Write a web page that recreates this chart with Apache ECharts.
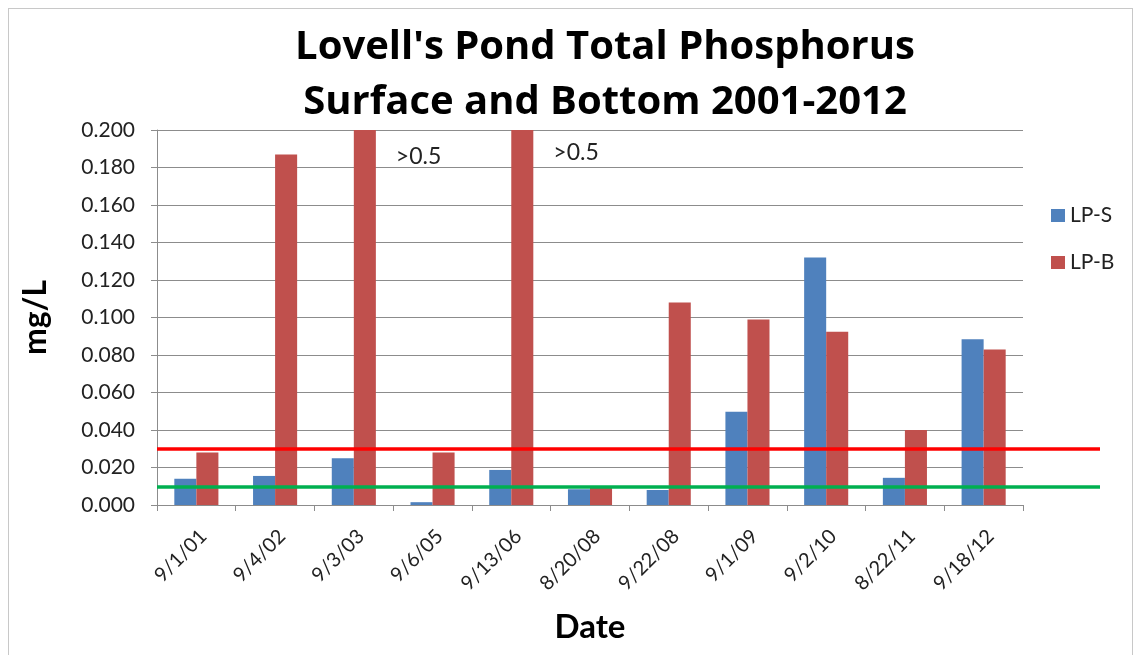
<!DOCTYPE html>
<html>
<head>
<meta charset="utf-8">
<script src="https://cdn.jsdelivr.net/npm/echarts@6/dist/echarts.min.js"></script>
<style>
html,body{margin:0;padding:0;background:#fff;}
#frame{position:absolute;left:8px;top:8px;width:1125px;height:660px;border:1px solid #c8c8c8;box-sizing:border-box;}
#chart{position:absolute;left:0;top:0;width:1140px;height:655px;}
</style>
</head>
<body>
<div id="frame"></div>
<div id="chart"></div>
<script>
// Data
const categories = ['9/1/01','9/4/02','9/3/03','9/6/05','9/13/06','8/20/08','9/22/08','9/1/09','9/2/10','8/22/11','9/18/12'];
const lpS = [0.014, 0.0155, 0.025, 0.0015, 0.0187, 0.0084, 0.008, 0.0498, 0.132, 0.0145, 0.0884];
const lpB = [0.028, 0.187, 0.5, 0.028, 0.5, 0.0101, 0.108, 0.099, 0.0924, 0.040, 0.083];
const yTicks = [0, 0.02, 0.04, 0.06, 0.08, 0.10, 0.12, 0.14, 0.16, 0.18, 0.20];
const annotations = [ {cat:'9/3/03', y:0.1856, text:'>0.5'}, {cat:'9/13/06', y:0.1877, text:'>0.5'} ];
const thresholdRed = 0.0288;
const thresholdGreen = 0.011;

const FONT = 'Lato';
const chart = echarts.init(document.getElementById('chart'));
chart.setOption({
  animation:false,
  title:{
    text:"Lovell's Pond Total Phosphorus\nSurface and Bottom 2001-2012",
    left:600, top:15, textAlign:'center',
    textStyle:{fontFamily:'Open Sans', fontWeight:'bold', fontSize:40, lineHeight:55, color:'#000'}
  },
  legend:{
    orient:'vertical', left:1046, top:200, itemGap:26,
    itemWidth:14, itemHeight:13, icon:'rect',
    textStyle:{fontFamily:FONT, fontSize:21, color:'#222', padding:[0,0,0,0]},
    data:['LP-S','LP-B']
  },
  grid:[
    {left:157, top:130, width:866, height:375, outerBoundsMode:'none', containLabel:false},
    {left:157, top:130, width:943, height:375, outerBoundsMode:'none', containLabel:false}
  ],
  xAxis:[
    {type:'category', gridIndex:0, data:categories,
     name:'Date', nameLocation:'middle', nameGap:106,
     nameTextStyle:{fontFamily:FONT, fontWeight:'bold', fontSize:33, color:'#000'},
     axisLine:{lineStyle:{color:'#8c8c8c', width:1}},
     axisTick:{show:true, alignWithLabel:false, length:6, lineStyle:{color:'#8c8c8c'}},
     axisLabel:{rotate:45, fontFamily:FONT, fontSize:20, color:'#222', margin:21, interval:0, verticalAlign:'top'}
    },
    {type:'value', gridIndex:1, min:0, max:1, show:false}
  ],
  yAxis:[
    {type:'value', gridIndex:0, min:0, max:0.2, interval:0.02,
     name:'mg/L', nameLocation:'middle', nameGap:105, nameRotate:90,
     nameTextStyle:{fontFamily:FONT, fontWeight:'bold', fontSize:32, color:'#000'},
     axisLine:{show:true, lineStyle:{color:'#8c8c8c'}},
     axisTick:{show:true, length:6, lineStyle:{color:'#8c8c8c'}},
     splitLine:{lineStyle:{color:'#8c8c8c', width:1}},
     axisLabel:{fontFamily:FONT, fontSize:21, color:'#222', margin:22,
       formatter:function(v){return v.toFixed(3);}}
    },
    {type:'value', gridIndex:1, min:0, max:0.2, show:false}
  ],
  series:[
    {name:'LP-S', type:'bar', xAxisIndex:0, yAxisIndex:0, data:lpS,
     itemStyle:{color:'#4F81BD'}, barGap:'0%', barCategoryGap:'44%'},
    {name:'LP-B', type:'bar', xAxisIndex:0, yAxisIndex:0, data:lpB,
     itemStyle:{color:'#C0504D'}, barGap:'0%', barCategoryGap:'44%',
     markPoint:{
       symbol:'circle', symbolSize:0, silent:true,
       label:{show:true, position:'right', distance:31, fontFamily:FONT, fontSize:23, color:'#222'},
       data:annotations.map(a=>({coord:[a.cat, a.y], value:a.text, label:{formatter:a.text}}))
     }},
    {name:'thresholds', type:'line', xAxisIndex:1, yAxisIndex:1, data:[], silent:true,
     markLine:{
       silent:true, symbol:['none','none'], label:{show:false},
       data:[
         {yAxis:thresholdRed, lineStyle:{color:'#FF0000', width:3.5, type:'solid'}},
         {yAxis:thresholdGreen, lineStyle:{color:'#00B050', width:3.5, type:'solid'}}
       ]
     }}
  ]
});
</script>
</body>
</html>
